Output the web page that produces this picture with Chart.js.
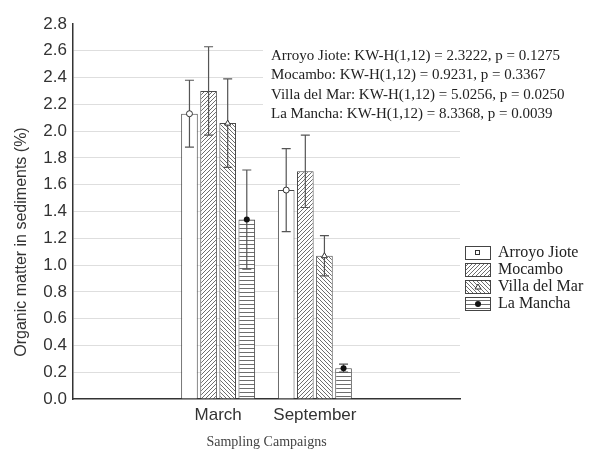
<!DOCTYPE html>
<html>
<head>
<meta charset="utf-8">
<script src="https://cdn.jsdelivr.net/npm/chart.js"></script>
<style>
    html, body { margin: 0; padding: 0; background: #fff; }
    #wrap { width: 595px; height: 451px; position: relative; }
</style>
</head>
<body>
<div id="wrap"><canvas id="chart" width="595" height="451"></canvas></div>
<script>
// Categories (empty slots either side, as in the original Statistica plot)
const categories = ['', 'March', 'September', ''];
const seriesNames = ['Arroyo Jiote', 'Mocambo', 'Villa del Mar', 'La Mancha'];

// Means (%) per campaign
const arroyoJiote = [null, 2.13, 1.56, null];
const mocambo = [null, 2.30, 1.70, null];
const villaDelMar = [null, 2.06, 1.07, null];
const laMancha = [null, 1.34, 0.23, null];

// Error bar half-lengths
const arroyoJioteErr = [null, 0.25, 0.31, null];
const mocamboErr = [null, 0.33, 0.27, null];
const villaDelMarErr = [null, 0.33, 0.15, null];
const laManchaErr = [null, 0.37, 0.03, null];

const yTicks = [0, 0.2, 0.4, 0.6, 0.8, 1.0, 1.2, 1.4, 1.6, 1.8, 2.0, 2.2, 2.4, 2.6, 2.8];

const statLines = [
    'Arroyo Jiote: KW-H(1,12) = 2.3222, p = 0.1275',
    'Mocambo: KW-H(1,12) = 0.9231, p = 0.3367',
    'Villa del Mar: KW-H(1,12) = 5.0256, p = 0.0250',
    'La Mancha: KW-H(1,12) = 8.3368, p = 0.0039'
];

// Hatch patterns
function makePattern(kind) {
    const c = document.createElement('canvas');
    const size = 4;
    c.width = size;
    c.height = size;
    const g = c.getContext('2d');
    g.fillStyle = '#ffffff';
    g.fillRect(0, 0, size, size);
    g.strokeStyle = '#6e6e6e';
    g.lineWidth = 1;
    g.beginPath();
    if (kind === 'up') {
        g.moveTo(0, size); g.lineTo(size, 0);
        g.moveTo(-1, 1); g.lineTo(1, -1);
        g.moveTo(size - 1, size + 1); g.lineTo(size + 1, size - 1);
    } else if (kind === 'down') {
        g.moveTo(0, 0); g.lineTo(size, size);
        g.moveTo(-1, size - 1); g.lineTo(1, size + 1);
        g.moveTo(size - 1, -1); g.lineTo(size + 1, 1);
    } else if (kind === 'horiz') {
        g.moveTo(0, 0.5); g.lineTo(size, 0.5);
    }
    g.stroke();
    return g.createPattern(c, 'repeat');
}

const ctx = document.getElementById('chart').getContext('2d');
const fills = ['#ffffff', makePattern('up'), makePattern('down'), makePattern('horiz')];
const markers = ['circle', null, 'triangle', 'dot'];
const errors = [arroyoJioteErr, mocamboErr, villaDelMarErr, laManchaErr];

function drawMarker(g, kind, x, y) {
    g.save();
    g.strokeStyle = '#333';
    g.lineWidth = 1;
    if (kind === 'circle') {
        g.fillStyle = '#fff';
        g.beginPath();
        g.arc(x, y, 3, 0, Math.PI * 2);
        g.fill();
        g.stroke();
    } else if (kind === 'triangle') {
        g.fillStyle = '#fff';
        g.beginPath();
        g.moveTo(x, y - 3);
        g.lineTo(x + 3, y + 2);
        g.lineTo(x - 3, y + 2);
        g.closePath();
        g.fill();
        g.stroke();
    } else if (kind === 'dot') {
        g.fillStyle = '#111';
        g.beginPath();
        g.arc(x, y, 3, 0, Math.PI * 2);
        g.fill();
    }
    g.restore();
}

// Error bars, markers, stats text, y title and legend
const extrasPlugin = {
    id: 'extras',
    afterDatasetsDraw(chart) {
        const g = chart.ctx;
        const yScale = chart.scales.y;
        chart.data.datasets.forEach((ds, di) => {
            const meta = chart.getDatasetMeta(di);
            meta.data.forEach((bar, i) => {
                const v = ds.data[i];
                if (v === null) return;
                const e = errors[di][i];
                const yTop = yScale.getPixelForValue(v + e);
                const yBot = yScale.getPixelForValue(v - e);
                g.save();
                g.strokeStyle = '#555';
                g.lineWidth = 1.2;
                g.beginPath();
                g.moveTo(bar.x, yTop); g.lineTo(bar.x, yBot);
                g.moveTo(bar.x - 4.5, yTop); g.lineTo(bar.x + 4.5, yTop);
                g.moveTo(bar.x - 4.5, yBot); g.lineTo(bar.x + 4.5, yBot);
                g.stroke();
                g.restore();
                drawMarker(g, markers[di], bar.x, bar.y);
            });
        });
    },
    afterDraw(chart) {
        const g = chart.ctx;
        g.save();
        // stats box has a white background hiding the gridlines behind it
        g.fillStyle = '#fff';
        g.fillRect(263, 44, 332, 80);
        g.fillStyle = '#222';
        g.font = '15px "Liberation Serif"';
        g.textBaseline = 'middle';
        statLines.forEach((t, i) => g.fillText(t, 271, 56 + i * 19.5));

        // y axis title, placed as in the original (not centred on the plot)
        g.save();
        g.translate(22, 242);
        g.rotate(-Math.PI / 2);
        g.textAlign = 'center';
        g.fillStyle = '#333';
        g.font = '16px "Liberation Sans"';
        g.fillText('Organic matter in sediments (%)', 0, 0);
        g.restore();

        // legend
        seriesNames.forEach((name, i) => {
            const y = 246 + i * 17;
            g.fillStyle = fills[i];
            g.fillRect(465, y, 25, 13);
            g.strokeStyle = '#444';
            g.lineWidth = 1;
            g.strokeRect(465.5, y + 0.5, 25, 13);
            if (markers[i] === 'circle') {
                g.strokeStyle = '#333';
                g.strokeRect(475.5, y + 4.5, 4, 4);
            } else if (markers[i]) {
                drawMarker(g, markers[i], 478, y + 7);
            }
            g.fillStyle = '#222';
            g.font = '16px "Liberation Serif"';
            g.textBaseline = 'middle';
            g.fillText(name, 498, y + 7);
        });
        g.restore();
    }
};

new Chart(ctx, {
    type: 'bar',
    data: {
        labels: categories,
        datasets: seriesNames.map((name, i) => ({
            label: name,
            data: [arroyoJiote, mocambo, villaDelMar, laMancha][i],
            backgroundColor: fills[i],
            borderColor: '#4a4a4a',
            borderWidth: 1,
            borderSkipped: 'bottom',
            categoryPercentage: 0.79,
            barPercentage: 0.87
        }))
    },
    options: {
        responsive: false,
        animation: false,
        layout: { padding: { top: 24, right: 135, left: 0, bottom: 0 } },
        plugins: {
            legend: { display: false },
            tooltip: { enabled: false }
        },
        scales: {
            x: {
                grid: { display: false, drawTicks: false },
                border: { color: '#333', width: 1.5 },
                ticks: {
                    color: '#333',
                    font: { family: '"Liberation Sans", Arial', size: 17 },
                    padding: 6
                },
                title: {
                    display: true,
                    text: 'Sampling Campaigns',
                    color: '#444',
                    font: { family: '"Liberation Serif"', size: 14 },
                    padding: { top: 2, bottom: 0 }
                },
                afterFit(scale) { scale.height = 52; }
            },
            y: {
                min: 0,
                max: 2.8,
                afterBuildTicks(scale) { scale.ticks = yTicks.map(v => ({ value: v })); },
                grid: {
                    color: (c) => (c.tick.value === 0 || c.tick.value === 2.8) ? 'rgba(0,0,0,0)' : '#dedede',
                    drawTicks: false
                },
                border: { color: '#333', width: 1.5 },
                ticks: {
                    color: '#333',
                    font: { family: '"Liberation Sans", Arial', size: 17 },
                    padding: 6,
                    callback: (v) => Number(v).toFixed(1)
                },
                afterFit(scale) { scale.width = 73; }
            }
        }
    },
    plugins: [extrasPlugin]
});
</script>
</body>
</html>
